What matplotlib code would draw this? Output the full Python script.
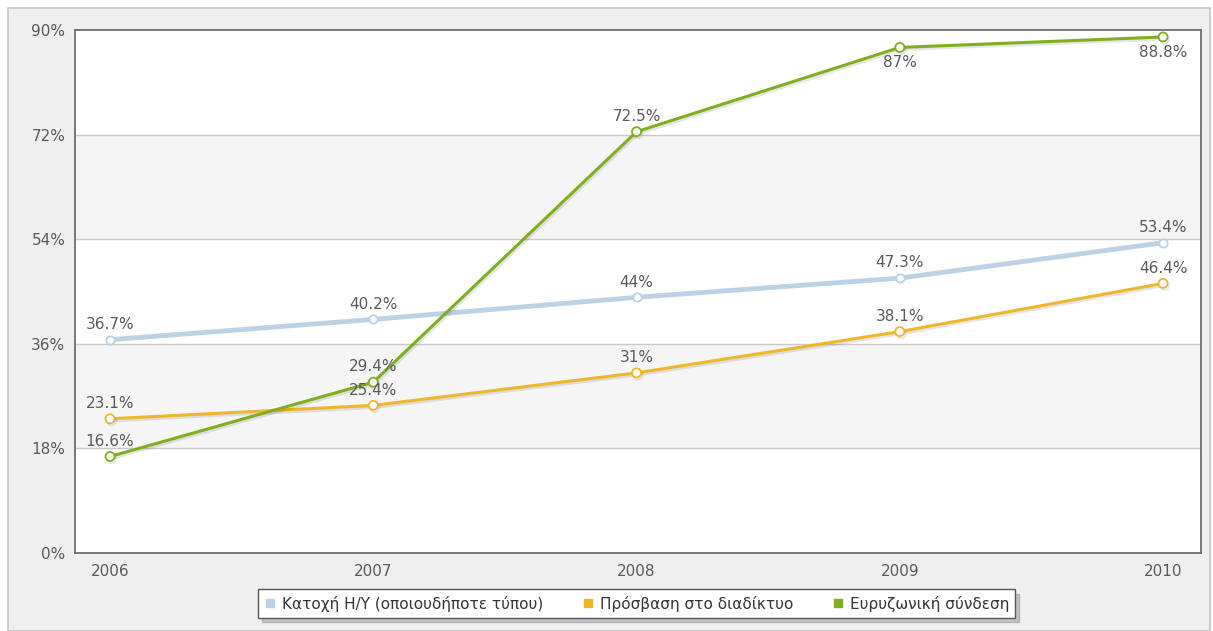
import matplotlib
matplotlib.use("Agg")
import matplotlib.pyplot as plt
from matplotlib.patches import Rectangle
from matplotlib.lines import Line2D
import matplotlib.patheffects as pe

plt.rcParams["font.family"] = ["DejaVu Sans"]

years = [2006, 2007, 2008, 2009, 2010]
pc_ownership = [36.7, 40.2, 44.0, 47.3, 53.4]
internet_access = [23.1, 25.4, 31.0, 38.1, 46.4]
broadband = [16.6, 29.4, 72.5, 87.0, 88.8]

series_names = ["Κατοχή Η/Υ (οποιουδήποτε τύπου)",
                "Πρόσβαση στο διαδίκτυο",
                "Ευρυζωνική σύνδεση"]
y_ticks = [0, 18, 36, 54, 72, 90]

C_BLUE = "#bcd1e6"
C_ORANGE = "#efb62a"
C_GREEN = "#7fae1f"
TXT = "#5a5a5a"
FS = 11

fig = plt.figure(figsize=(12.13, 6.31), dpi=100)
fig.patch.set_facecolor("white")

# outer panel behind everything
panel = Rectangle((8 / 1213, 0), 1202 / 1213, 1 - 8 / 631, transform=fig.transFigure,
                  facecolor="#efefef", edgecolor="#c4c4c4", linewidth=1.2, zorder=-10)
fig.patches.append(panel)

ax = fig.add_axes([75 / 1213, 1 - 553 / 631, (1201 - 75) / 1213, (553 - 30) / 631])
ax.set_zorder(1)
ax.set_xlim(2005.867, 2010.144)
ax.set_ylim(0, 90)
ax.set_facecolor("white")

# alternating bands
for lo in (18, 54):
    ax.axhspan(lo, lo + 18, color="#f5f5f5", zorder=0, lw=0)
for t in y_ticks[1:-1]:
    ax.axhline(t, color="#c9c9c9", lw=1.0, zorder=1)

for sp in ax.spines.values():
    sp.set_color("#6e6e6e")
    sp.set_linewidth(1.3)

ax.set_yticks(y_ticks)
ax.set_yticklabels([f"{t}%" for t in y_ticks])
ax.set_xticks(years)
ax.set_xticklabels([str(y) for y in years])
ax.tick_params(length=0, colors=TXT, labelsize=FS)
ax.tick_params(axis="y", pad=7)
ax.tick_params(axis="x", pad=8)

shadow = [pe.SimpleLineShadow(offset=(1, -1.5), shadow_color="#000000", alpha=0.10), pe.Normal()]

ax.plot(years, pc_ownership, color=C_BLUE, lw=3.5, marker="o", ms=6,
        mfc="white", mec=C_BLUE, mew=1.3, zorder=3, solid_capstyle="round")
ax.plot(years, internet_access, color=C_ORANGE, lw=2.2, marker="o", ms=6.5,
        mfc="white", mec=C_ORANGE, mew=1.3, zorder=4, path_effects=shadow)
ax.plot(years, broadband, color=C_GREEN, lw=2.2, marker="o", ms=6.5,
        mfc="white", mec=C_GREEN, mew=1.3, zorder=5, path_effects=shadow)


def fmt(v):
    return f"{v:g}%"


def label(xs, vals, below=()):
    for i, (x, v) in enumerate(zip(xs, vals)):
        dy = -11 if i in below else 11
        ax.annotate(fmt(v), (x, v), xytext=(0, dy), textcoords="offset points",
                    ha="center", va="center", fontsize=FS, color=TXT, zorder=6)


label(years, pc_ownership)
label(years, internet_access)
label(years, broadband, below=(3, 4))

handles = [Line2D([], [], marker="s", ls="none", color=c, ms=6)
           for c in (C_BLUE, C_ORANGE, C_GREEN)]
leg = fig.legend(handles, series_names, loc="center",
                 bbox_to_anchor=(636.5 / 1213, 1 - 603.5 / 631),
                 ncol=3, frameon=True, fontsize=11, handlelength=0.8, handletextpad=0.4,
                 columnspacing=2.5, borderpad=0.4, fancybox=False,
                 shadow={"color": "#000000", "alpha": 0.18, "ox": 3, "oy": -3})
for t in leg.get_texts():
    t.set_color("#333333")
leg.get_frame().set_edgecolor("#555555")
leg.get_frame().set_linewidth(1.0)

fig.savefig("out.png", dpi=100)
